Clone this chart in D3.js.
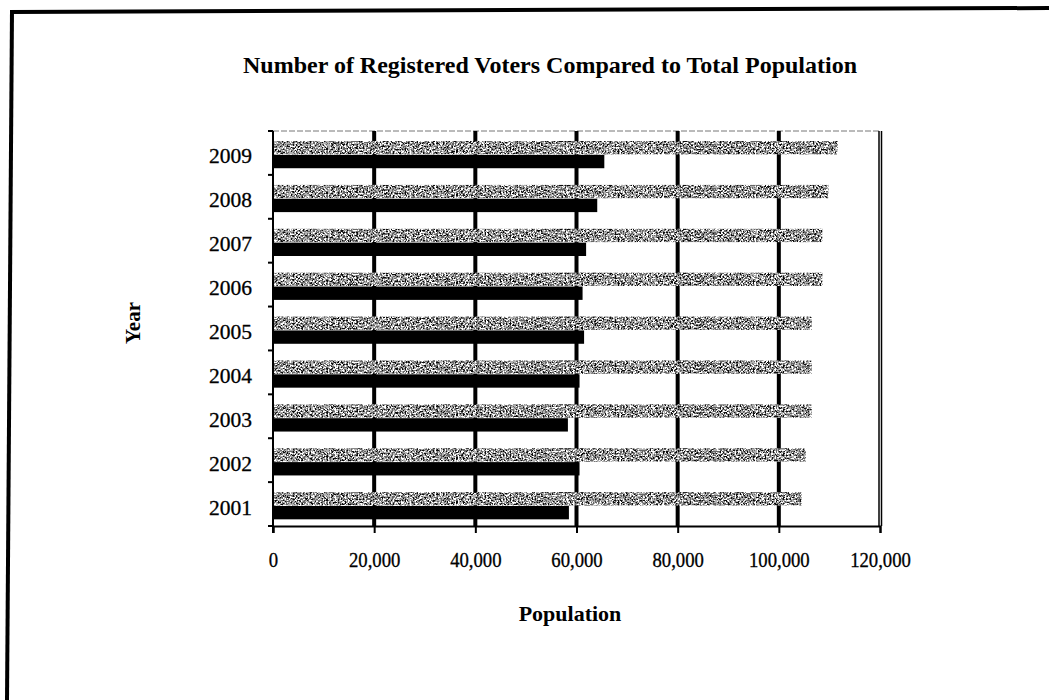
<!DOCTYPE html>
<html>
<head>
<meta charset="utf-8">
<script src="https://cdn.jsdelivr.net/npm/d3@7"></script>
<style>
  html, body { margin: 0; padding: 0; background: #fff; }
  svg { display: block; }
  text { font-family: "Liberation Serif", "Times New Roman", serif; fill: #000; }
</style>
</head>
<body>
<svg id="chart" width="1049" height="700"></svg>
<script>
// Registered voters vs. total population by year
const years = ["2001", "2002", "2003", "2004", "2005", "2006", "2007", "2008", "2009"];
const registeredVoters = [58500, 60600, 58300, 60600, 61500, 61200, 61900, 64100, 65500];
const totalPopulation = [104500, 105300, 106500, 106500, 106500, 108600, 108600, 109800, 111600];
const xTicks = [0, 20000, 40000, 60000, 80000, 100000, 120000];
const seriesKeys = ["total", "registered"];

const rows = years.map((y, i) => ({ year: y, total: totalPopulation[i], registered: registeredVoters[i] }));

const svg = d3.select("#chart");
const W = 1049, H = 700;
const plot = { left: 273, right: 880, top: 131, bottom: 526 };

// grainy fill used for the population bars
const defs = svg.append("defs");
const f = defs.append("filter").attr("id", "grain")
  .attr("x", 0).attr("y", 0).attr("width", "100%").attr("height", "100%")
  .attr("color-interpolation-filters", "sRGB");
f.append("feTurbulence").attr("type", "fractalNoise").attr("baseFrequency", 0.6)
  .attr("numOctaves", 2).attr("seed", 7).attr("result", "t");
f.append("feColorMatrix").attr("in", "t").attr("type", "matrix")
  .attr("values", "0.33 0.33 0.33 0 0  0.33 0.33 0.33 0 0  0.33 0.33 0.33 0 0  0 0 0 0 1")
  .attr("result", "g");
const ct1 = f.append("feComponentTransfer").attr("in", "g").attr("result", "s");
["feFuncR", "feFuncG", "feFuncB"].forEach(n =>
  ct1.append(n).attr("type", "linear").attr("slope", 4).attr("intercept", -1.45));
const ct2 = f.append("feComponentTransfer").attr("in", "s").attr("result", "d");
["feFuncR", "feFuncG", "feFuncB"].forEach(n =>
  ct2.append(n).attr("type", "discrete").attr("tableValues", "0.05 0.4 0.7 1"));
f.append("feComposite").attr("in", "d").attr("in2", "SourceAlpha").attr("operator", "in");

svg.append("rect").attr("width", W).attr("height", H).attr("fill", "#fff");

// outer frame (top and left edges)
svg.append("line").attr("x1", 11).attr("y1", 12).attr("x2", W).attr("y2", 8)
  .attr("stroke", "#000").attr("stroke-width", 4);
svg.append("line").attr("x1", 12).attr("y1", 10).attr("x2", 7).attr("y2", H)
  .attr("stroke", "#000").attr("stroke-width", 4);

// scales
const x = d3.scaleLinear().domain([0, 120000]).range([plot.left, plot.right]);
const y = d3.scaleBand().domain(years.slice().reverse()).range([plot.top, plot.bottom]).padding(0);
const ySub = d3.scaleBand().domain(seriesKeys).range([0, y.bandwidth()])
  .paddingInner(0.04).paddingOuter(0.6).align(0.6);

// plot area top edge
svg.append("line").attr("x1", plot.left).attr("x2", plot.right)
  .attr("y1", plot.top).attr("y2", plot.top)
  .attr("stroke", "#777").attr("stroke-width", 1).attr("stroke-dasharray", "6,2");

// vertical gridlines
svg.append("g").selectAll("line")
  .data(xTicks.filter(t => t > 0 && t < 120000))
  .join("line")
  .attr("x1", d => x(d)).attr("x2", d => x(d))
  .attr("y1", plot.top).attr("y2", plot.bottom)
  .attr("stroke", "#000").attr("stroke-width", 4);

// right edge of the plot area (double rule)
svg.append("line").attr("x1", plot.right - 1).attr("x2", plot.right - 1)
  .attr("y1", plot.top).attr("y2", plot.bottom).attr("stroke", "#000").attr("stroke-width", 1.5);
svg.append("line").attr("x1", plot.right + 1.5).attr("x2", plot.right + 1.5)
  .attr("y1", plot.top).attr("y2", plot.bottom).attr("stroke", "#000").attr("stroke-width", 1.5);

// bars
const groups = svg.append("g").selectAll("g").data(rows).join("g")
  .attr("transform", d => `translate(0,${y(d.year)})`);
groups.append("rect")
  .attr("x", x(0)).attr("y", ySub("total"))
  .attr("width", d => x(d.total) - x(0)).attr("height", ySub.bandwidth())
  .attr("fill", "#808080").attr("filter", "url(#grain)");
groups.append("rect")
  .attr("x", x(0)).attr("y", ySub("registered"))
  .attr("width", d => x(d.registered) - x(0)).attr("height", ySub.bandwidth())
  .attr("fill", "#000");

// x axis
const xAxis = svg.append("g").attr("transform", `translate(0,${plot.bottom})`)
  .call(d3.axisBottom(x).tickValues(xTicks).tickSize(7).tickPadding(18)
    .tickFormat(d => d3.format(",")(d)));
xAxis.select(".domain").attr("stroke", "#000").attr("stroke-width", 2);
xAxis.selectAll(".tick line").attr("stroke", "#000").attr("stroke-width", 2);
xAxis.selectAll("text").attr("font-size", 22).attr("font-family", "Liberation Serif")
  .attr("stroke", "#000").attr("stroke-width", 0.35)
  .attr("transform", "scale(0.85,1)");

// y axis: ticks on category boundaries, labels at category centres
const yAxisG = svg.append("g");
yAxisG.append("line").attr("x1", plot.left).attr("x2", plot.left)
  .attr("y1", plot.top).attr("y2", plot.bottom + 7).attr("stroke", "#000").attr("stroke-width", 2);
const boundaries = years.slice().reverse().map(yr => y(yr)).concat([plot.bottom]);
yAxisG.selectAll("line.tk").data(boundaries).join("line").attr("class", "tk")
  .attr("x1", plot.left - 5).attr("x2", plot.left)
  .attr("y1", d => d).attr("y2", d => d)
  .attr("stroke", "#000").attr("stroke-width", 2);
yAxisG.selectAll("text").data(years).join("text")
  .attr("x", 252).attr("y", d => y(d) + y.bandwidth() / 2 + 3)
  .attr("dy", "0.35em").attr("text-anchor", "end")
  .attr("stroke", "#000").attr("stroke-width", 0.3)
  .attr("font-size", 21.5).text(d => d);

// titles
svg.append("text").attr("x", 550).attr("y", 73).attr("text-anchor", "middle")
  .attr("font-size", 24).attr("font-weight", "bold")
  .text("Number of Registered Voters Compared to Total Population");
svg.append("text").attr("x", 570).attr("y", 621).attr("text-anchor", "middle")
  .attr("font-size", 22).attr("font-weight", "bold").text("Population");
svg.append("text").attr("transform", "translate(140,323) rotate(-90)")
  .attr("text-anchor", "middle").attr("font-size", 21).attr("font-weight", "bold").text("Year");
</script>
</body>
</html>
